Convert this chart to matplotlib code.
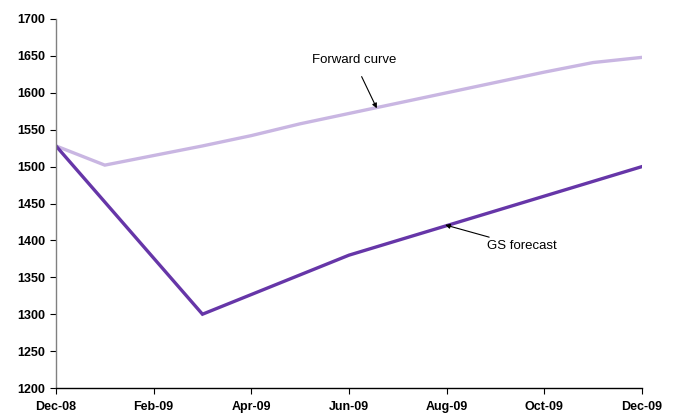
import matplotlib
matplotlib.use("Agg")
import matplotlib.pyplot as plt

plt.rcParams['font.family'] = ['Liberation Sans', 'DejaVu Sans']

# Monthly timeline, Dec-08 .. Dec-09
months = ['Dec-08', 'Jan-09', 'Feb-09', 'Mar-09', 'Apr-09', 'May-09', 'Jun-09',
          'Jul-09', 'Aug-09', 'Sep-09', 'Oct-09', 'Nov-09', 'Dec-09']

# Forward curve (monthly)
forward_curve = [1528, 1502, 1515, 1528, 1542, 1558, 1572, 1586, 1600, 1614, 1628, 1641, 1648]

# GS forecast (quarterly anchor points)
gs_months = ['Dec-08', 'Mar-09', 'Jun-09', 'Dec-09']
gs_forecast = [1528, 1300, 1380, 1500]

tick_labels = ['Dec-08', 'Feb-09', 'Apr-09', 'Jun-09', 'Aug-09', 'Oct-09', 'Dec-09']
y_ticks = [1200, 1250, 1300, 1350, 1400, 1450, 1500, 1550, 1600, 1650, 1700]

idx = {m: i for i, m in enumerate(months)}

fig = plt.figure(figsize=(6.77, 4.13), dpi=100)
ax = fig.add_axes([0.0827, 0.0605, 0.8655, 0.8935])

ax.plot(range(len(months)), forward_curve, color='#C9B6E2', lw=2.4, solid_joinstyle='miter')
ax.plot([idx[m] for m in gs_months], gs_forecast, color='#6636A8', lw=2.4, solid_joinstyle='miter')

ax.set_xlim(0, len(months) - 1)
ax.set_ylim(1200, 1700)
ax.set_xticks([idx[m] for m in tick_labels])
ax.set_xticklabels(tick_labels)
ax.set_yticks(y_ticks)

for s in ['top', 'right']:
    ax.spines[s].set_visible(False)
for s in ['left', 'bottom']:
    ax.spines[s].set_color('#000000')
    ax.spines[s].set_linewidth(1.0)
ax.spines['left'].set_color('#808080')

ax.tick_params(axis='both', direction='out', length=4, width=0.8, colors='black',
               labelsize=9)
ax.tick_params(axis='x', pad=5)
ax.tick_params(axis='y', pad=4)
for lab in ax.get_xticklabels() + ax.get_yticklabels():
    lab.set_fontweight('bold')

ax.annotate('Forward curve', xy=(6.57, 1579), xytext=(6.1, 1644),
            ha='center', va='center', fontsize=9.5,
            arrowprops=dict(arrowstyle='-|>', color='black', lw=0.8,
                            mutation_scale=7, shrinkA=6, shrinkB=0))
ax.annotate('GS forecast', xy=(7.97, 1421), xytext=(8.83, 1392),
            ha='left', va='center', fontsize=9.5,
            arrowprops=dict(arrowstyle='-|>', color='black', lw=0.8,
                            mutation_scale=7, shrinkA=1, shrinkB=0))

fig.savefig('out.png', dpi=100)
